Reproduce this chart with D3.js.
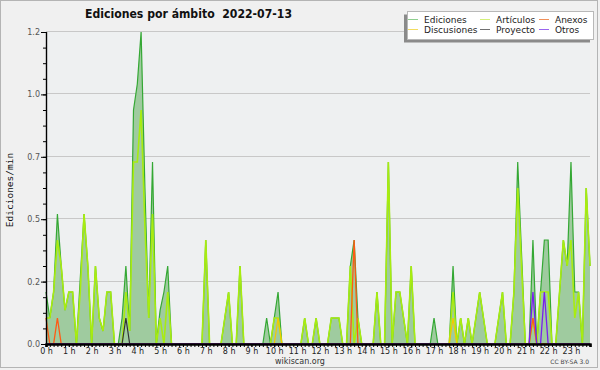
<!DOCTYPE html>
<html><head><meta charset="utf-8">
<script src="https://cdn.jsdelivr.net/npm/d3@7"></script>
<style>body{margin:0;background:#f0f0f0}svg{display:block}</style>
</head><body>
<svg id="c" width="600" height="370"></svg>
<script>
// 10-minute slots, 00:00 .. 23:50 (144 slots), values in edits/min
const ediciones = [
 0.2,0.1,0.2,0.5,0.3,0.13,  0.2,0.2,0,0.25,0.5,0.3,  0,0.3,0.1,0.05,0.2,0.2,  0,0,0.1,0.3,0.05,0.9,
 1.0,1.2,0.6,0.1,0.7,0,  0.13,0.2,0.3,0,0,0,  0,0,0,0,0,0,  0.4,0,0,0,0,0.1,
 0.2,0,0,0.3,0,0,  0,0,0,0,0.1,0,  0.1,0.2,0,0,0,0,  0,0,0.1,0,0,0.1,
 0,0,0,0.1,0.1,0.1,  0,0,0.3,0.4,0.1,0,  0,0,0,0.2,0,0,  0.7,0,0.2,0.2,0.1,0,
 0.3,0,0,0,0,0,  0.1,0,0,0,0,0.3,  0,0.1,0,0.1,0,0.1,  0.2,0.1,0,0,0,0.1,
 0.2,0,0,0.2,0.7,0.35,  0,0,0.4,0,0.2,0.4,  0.4,0,0,0.2,0.4,0.3,  0.7,0.2,0.2,0,0.6,0.3
];
const articulos = [
 0.1,0.1,0.2,0.4,0.3,0.13,  0.2,0.2,0,0.2,0.5,0.3,  0,0.3,0.1,0.05,0.2,0.2,  0,0,0,0.2,0.05,0.7,
 0.7,0.9,0.45,0.1,0.5,0,  0.1,0,0.2,0,0,0,  0,0,0,0,0,0,  0.4,0,0,0,0,0.1,
 0.2,0,0,0.3,0,0,  0,0,0,0,0,0,  0.1,0.1,0,0,0,0,  0,0,0.1,0,0,0.1,
 0,0,0,0.1,0.1,0.1,  0,0,0.3,0,0.1,0,  0,0,0,0.2,0,0,  0.7,0,0.2,0.2,0.1,0,
 0.3,0,0,0,0,0,  0,0,0,0,0,0.2,  0,0.1,0,0.1,0,0.1,  0.2,0.1,0,0,0,0.1,
 0.2,0,0,0.2,0.6,0.3,  0,0,0.1,0,0.2,0.2,  0.2,0,0,0.2,0.4,0.3,  0.4,0.1,0.2,0,0.6,0.3
];
const anexos = [
 0.1,0,0,0.1,0,0,  0,0,0,0,0,0,  0,0,0,0,0,0,  0,0,0,0,0,0,
 0,0,0,0,0,0,  0,0,0,0,0,0,  0,0,0,0,0,0,  0,0,0,0,0,0,
 0,0,0,0,0,0,  0,0,0,0,0,0,  0,0,0,0,0,0,  0,0,0,0,0,0,
 0,0,0,0,0,0,  0,0,0,0.4,0,0,  0,0,0,0,0,0,  0,0,0,0,0,0,
 0,0,0,0,0,0,  0,0,0,0,0,0,  0,0,0,0,0,0,  0,0,0,0,0,0,
 0,0,0,0,0,0,  0,0,0.1,0,0,0,  0,0,0,0,0,0,  0,0,0,0,0,0
];
const discusiones = [
 0,0,0,0,0,0,  0,0,0,0,0,0,  0,0,0,0,0,0,  0,0,0,0,0,0,
 0,0,0,0,0,0,  0,0,0,0,0,0,  0,0,0,0,0,0,  0,0,0,0,0,0,
 0,0,0,0,0,0,  0,0,0,0,0,0,  0,0.1,0,0,0,0,  0,0,0,0,0,0,
 0,0,0,0,0,0,  0,0,0,0,0,0,  0,0,0,0,0,0,  0,0,0,0,0,0,
 0,0,0,0,0,0,  0,0,0,0,0,0.1,  0,0,0,0,0,0,  0,0,0,0,0,0,
 0,0,0,0,0,0,  0,0,0,0,0,0,  0,0,0,0,0,0,  0,0,0,0,0,0
];
const proyecto = [
 0,0,0,0,0,0,  0,0,0,0,0,0,  0,0,0,0,0,0,  0,0,0,0.1,0,0,
 0,0,0,0,0,0,  0,0,0,0,0,0,  0,0,0,0,0,0,  0,0,0,0,0,0,
 0,0,0,0,0,0,  0,0,0,0,0,0,  0,0,0,0,0,0,  0,0,0,0,0,0,
 0,0,0,0,0,0,  0,0,0,0,0,0,  0,0,0,0,0,0,  0,0,0,0,0,0,
 0,0,0,0,0,0,  0,0,0,0,0,0,  0,0,0,0,0,0,  0,0,0,0,0,0,
 0,0,0,0,0,0,  0,0,0,0,0,0,  0,0,0,0,0,0,  0,0,0,0,0,0
];
const otros = [
 0,0,0,0,0,0,  0,0,0,0,0,0,  0,0,0,0,0,0,  0,0,0,0,0,0,
 0,0,0,0,0,0,  0,0,0,0,0,0,  0,0,0,0,0,0,  0,0,0,0,0,0,
 0,0,0,0,0,0,  0,0,0,0,0,0,  0,0,0,0,0,0,  0,0,0,0,0,0,
 0,0,0,0,0,0,  0,0,0,0,0,0,  0,0,0,0,0,0,  0,0,0,0,0,0,
 0,0,0,0,0,0,  0,0,0,0,0,0,  0,0,0,0,0,0,  0,0,0,0,0,0,
 0,0,0,0,0,0,  0,0,0.2,0,0,0.2,  0,0,0,0,0,0,  0,0,0,0,0,0
];
const hourLabels = ["0 h","1 h","2 h","3 h","4 h","5 h","6 h","7 h","8 h","9 h","10 h","11 h",
  "12 h","13 h","14 h","15 h","16 h","17 h","18 h","19 h","20 h","21 h","22 h","23 h"];
const yTickValues = [0,0.24,0.48,0.72,0.96,1.2];
const yTickLabels = ["0.0","0.2","0.5","0.7","1.0","1.2"];
const legendNames = ["Ediciones","Artículos","Anexos","Discusiones","Proyecto","Otros"];
const legendColors = ["#8fcf8f","#d4f07a","#f0905a","#f2dc60","#707070","#9a66ee"];

const svg = d3.select("#c");
const font = "DejaVu Sans";
const slots = d3.range(ediciones.length);

// outer frame
svg.append("rect").attr("x",0.5).attr("y",0.5).attr("width",597).attr("height",367)
  .attr("fill","#f0f0f0").attr("stroke","#b4b4b4");

const x = d3.scaleLinear().domain([0,143]).range([46,590]);
const y = d3.scaleLinear().domain([0,1.2]).range([344,32]);

// plot background
svg.append("rect").attr("x",46).attr("y",31.5).attr("width",544).attr("height",312.5)
  .attr("fill","#eef0f1");

// grid
svg.append("g").selectAll("line").data(yTickValues.slice(1)).join("line")
  .attr("x1",46).attr("x2",590).attr("y1",d=>Math.round(y(d))-0.5).attr("y2",d=>Math.round(y(d))-0.5)
  .attr("stroke","#c8c8c8").attr("stroke-width",1);

// area for Ediciones
const area = d3.area().x((d,i)=>x(i)).y0(y(0)).y1(d=>y(d));
svg.append("path").datum(ediciones).attr("d",area).attr("fill","#9fcb9f");

const line = d3.line().x((d,i)=>x(i)).y(d=>y(d));
svg.append("path").datum(ediciones).attr("d",line).attr("fill","none")
  .attr("stroke","#34a834").attr("stroke-width",1.2);
svg.append("path").datum(articulos).attr("d",line).attr("fill","none")
  .attr("stroke","#a8ec10").attr("stroke-width",1.6);
svg.append("path").datum(discusiones).attr("d",line).attr("fill","none")
  .attr("stroke","#f5c800").attr("stroke-width",1.2);
svg.append("path").datum(proyecto).attr("d",line).attr("fill","none")
  .attr("stroke","#333333").attr("stroke-width",1.2);
svg.append("path").datum(anexos).attr("d",line).attr("fill","none")
  .attr("stroke","#ff5a14").attr("stroke-width",1.3);
svg.append("path").datum(otros).attr("d",line).attr("fill","none")
  .attr("stroke","#7a1ef0").attr("stroke-width",1.3);

// y axis
const yMinor = d3.range(0,21).map(k=>k*0.06);
const gyMinor = svg.append("g").attr("transform","translate(46,0)")
  .call(d3.axisLeft(y).tickValues(yMinor).tickSize(3).tickFormat(""));
const gy = svg.append("g").attr("transform","translate(46,0)")
  .call(d3.axisLeft(y).tickValues(yTickValues).tickSize(5).tickFormat((d,i)=>yTickLabels[i]).tickPadding(1));
[gyMinor,gy].forEach(g=>{g.select(".domain").attr("stroke","#000").attr("stroke-width",1.2);
  g.selectAll(".tick line").attr("stroke","#000");});
gy.selectAll("text").attr("font-family",font).attr("font-size",8).attr("fill","#555");

// x axis
const gxMinor = svg.append("g").attr("transform","translate(0,344)")
  .call(d3.axisBottom(x).tickValues(slots).tickSize(3).tickFormat(""));
const gx = svg.append("g").attr("transform","translate(0,344)")
  .call(d3.axisBottom(x).tickValues(d3.range(0,144,6)).tickSize(3)
    .tickFormat((d,i)=>hourLabels[i]).tickPadding(1));
[gxMinor,gx].forEach(g=>{g.select(".domain").attr("stroke","#000").attr("stroke-width",2.2);
  g.selectAll(".tick line").attr("stroke","#000");});
gx.selectAll("text").attr("font-family",font).attr("font-size",8).attr("fill","#222");

// y label
svg.append("text").attr("transform","translate(13,190) rotate(-90)").attr("text-anchor","middle")
  .attr("font-family","DejaVu Sans Mono").attr("font-size",9.5).attr("fill","#111").text("Ediciones/min");

// title
svg.append("text").attr("x",85).attr("y",18).attr("font-family",font).attr("font-weight","bold")
  .attr("font-size",12).attr("fill","#111").attr("textLength",207).attr("lengthAdjust","spacingAndGlyphs")
  .style("white-space","pre").text("Ediciones por ámbito  2022-07-13");

// legend
svg.append("rect").attr("x",404).attr("y",14.5).attr("width",186).attr("height",28).attr("fill","#8a8a8a");
svg.append("rect").attr("x",407.5).attr("y",11.5).attr("width",186).attr("height",28)
  .attr("fill","#ffffff").attr("stroke","#b8b8b8");
const colX = [408,480,539];
const rowY = [19.5,29.5];
legendNames.forEach((n,k)=>{
  const c = k%3, r = Math.floor(k/3);
  svg.append("line").attr("x1",colX[c]).attr("x2",colX[c]+10).attr("y1",rowY[r]).attr("y2",rowY[r])
    .attr("stroke",legendColors[k]).attr("stroke-width",1);
  svg.append("text").attr("x",colX[c]+16).attr("y",rowY[r]+3).attr("font-family",font)
    .attr("font-size",9).attr("fill","#222").text(n);
});

// footer
svg.append("text").attr("x",300).attr("y",364).attr("text-anchor","middle").attr("font-family",font)
  .attr("font-size",8).attr("fill","#333").text("wikiscan.org");
svg.append("text").attr("x",589).attr("y",364).attr("text-anchor","end").attr("font-family",font)
  .attr("font-size",6).attr("fill","#444").text("CC BY-SA 3.0");
</script>
</body></html>
